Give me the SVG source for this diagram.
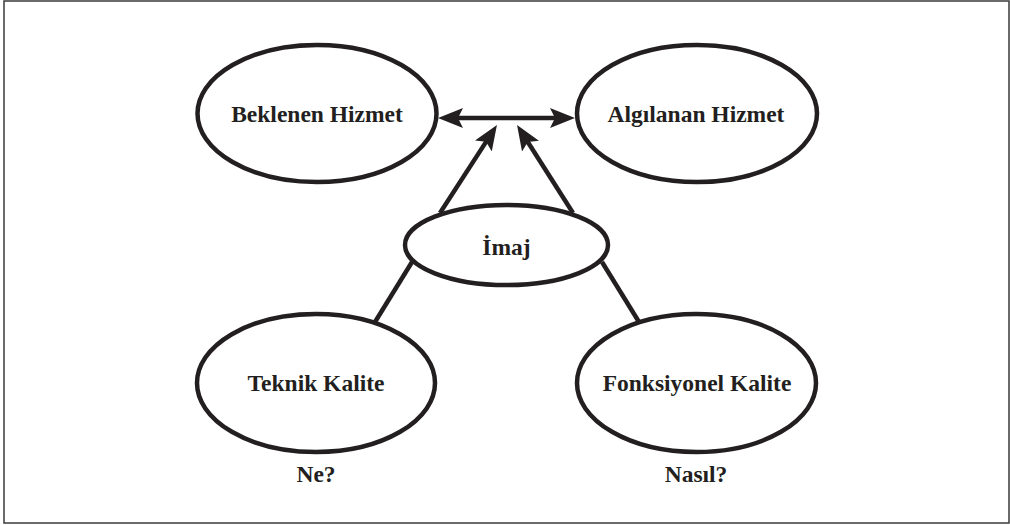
<svg xmlns="http://www.w3.org/2000/svg" width="1010" height="525" viewBox="0 0 1010 525">
  <style>
    .node { fill: #ffffff; stroke: #231f20; stroke-width: 4.5; }
    .lbl { font-family: "Liberation Serif", "Times New Roman", serif; font-weight: bold; font-size: 23.5px; fill: #231f20; text-anchor: middle; }
    .conn { stroke: #231f20; stroke-width: 4.5; fill: none; }
  </style>
  <defs>
    <marker id="arrow" viewBox="0 0 25 20" refX="10" refY="10" markerWidth="25" markerHeight="20" markerUnits="userSpaceOnUse" orient="auto-start-reverse">
      <path d="M0,0 L25,10 L0,20 L5,10 Z" fill="#231f20"/>
    </marker>
  </defs>
  <rect x="4" y="1" width="1005" height="522" fill="#ffffff" stroke="#3a3a3a" stroke-width="1.5"/>
  <g id="connectors">
    <line class="conn" x1="453" y1="118" x2="560" y2="118" marker-start="url(#arrow)" marker-end="url(#arrow)"/>
    <line class="conn" x1="440" y1="213" x2="488.8" y2="137.6" marker-end="url(#arrow)"/>
    <line class="conn" x1="573" y1="213" x2="525.1" y2="137.7" marker-end="url(#arrow)"/>
    <line class="conn" x1="412" y1="262" x2="375" y2="322"/>
    <line class="conn" x1="602" y1="262" x2="639" y2="322"/>
  </g>
  <g id="beklenen">
    <ellipse class="node" cx="317" cy="113.5" rx="119.5" ry="68.5"/>
    <text class="lbl" x="317" y="122">Beklenen Hizmet</text>
  </g>
  <g id="algilanan">
    <ellipse class="node" cx="697" cy="113.5" rx="120" ry="68.5"/>
    <text class="lbl" x="696" y="122">Algılanan Hizmet</text>
  </g>
  <g id="imaj">
    <ellipse class="node" cx="506.5" cy="245" rx="101.5" ry="40"/>
    <text class="lbl" x="506.5" y="255">İmaj</text>
  </g>
  <g id="teknik">
    <ellipse class="node" cx="316" cy="383" rx="119" ry="69"/>
    <text class="lbl" x="316" y="391">Teknik Kalite</text>
  </g>
  <g id="fonksiyonel">
    <ellipse class="node" cx="696.5" cy="383" rx="119.5" ry="69"/>
    <text class="lbl" x="697" y="391">Fonksiyonel Kalite</text>
  </g>
  <g id="ne">
    <text class="lbl" x="316" y="482">Ne?</text>
  </g>
  <g id="nasil">
    <text class="lbl" x="696" y="482">Nasıl?</text>
  </g>
</svg>
